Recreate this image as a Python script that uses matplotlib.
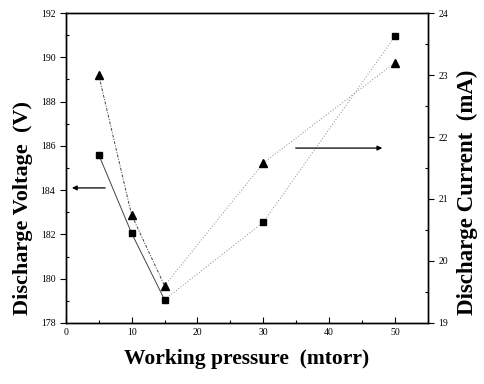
import matplotlib
matplotlib.use("Agg")
import matplotlib.pyplot as plt
from matplotlib.ticker import MultipleLocator

pressure = [5, 10, 15, 30, 50]
voltage = [185.6, 182.05, 179.05, 182.55, 190.95]
current = [23.0, 20.74, 19.6, 21.58, 23.2]

plt.rcParams['font.family'] = ['Liberation Serif', 'DejaVu Serif']

fig = plt.figure(figsize=(4.84, 3.84), dpi=100)
ax1 = fig.add_axes([0.136, 0.159, 0.748, 0.807])
ax2 = ax1.twinx()

# voltage (squares)
ax1.plot(pressure[:3], voltage[:3], color='#444444', lw=0.7, ls='-')
ax1.plot(pressure[2:], voltage[2:], color='#888888', lw=0.7, ls=(0, (1, 2)))
ax1.plot(pressure, voltage, ls='none', marker='s', ms=4.5, color='black')

# current (triangles)
ax2.plot(pressure[:3], current[:3], color='#444444', lw=0.7, ls=(0, (3, 1.5, 1, 1.5)))
ax2.plot(pressure[2:], current[2:], color='#888888', lw=0.7, ls=(0, (1, 2)))
ax2.plot(pressure, current, ls='none', marker='^', ms=6, color='black')

ax1.set_xlim(0, 55)
ax1.set_ylim(178, 192)
ax2.set_ylim(19, 24)

ax1.xaxis.set_major_locator(MultipleLocator(10))
ax1.xaxis.set_minor_locator(MultipleLocator(5))
ax1.yaxis.set_major_locator(MultipleLocator(2))
ax1.yaxis.set_minor_locator(MultipleLocator(1))
ax2.yaxis.set_major_locator(MultipleLocator(1))
ax2.yaxis.set_minor_locator(MultipleLocator(0.5))

for ax in (ax1, ax2):
    for s in ax.spines.values():
        s.set_linewidth(1.0)
    ax.tick_params(which='both', labelsize=7, width=0.8)
    ax.tick_params(which='major', length=4)
    ax.tick_params(which='minor', length=2)
ax1.tick_params(axis='x', which='both', direction='in')
ax1.tick_params(axis='y', which='major', direction='out')
ax1.tick_params(axis='y', which='minor', direction='in')
ax2.tick_params(axis='y', which='major', direction='out')
ax2.tick_params(axis='y', which='minor', direction='in')

ax1.set_xlabel('Working pressure  (mtorr)', fontsize=15.5, fontweight='bold')
ax1.set_ylabel('Discharge Voltage  (V)', fontsize=16, fontweight='bold')
ax2.set_ylabel('Discharge Current  (mA)', fontsize=16.5, fontweight='bold')
ax1.xaxis.set_label_coords(0.5, -0.085)
ax1.yaxis.set_label_coords(-0.09, 0.37)
ax2.yaxis.set_label_coords(1.08, 0.42)

ax1.annotate('', xy=(0.5, 184.1), xytext=(6.4, 184.1),
             arrowprops=dict(arrowstyle='-|>', color='black', lw=0.9, mutation_scale=7))
ax1.annotate('', xy=(48.5, 185.9), xytext=(34.5, 185.9),
             arrowprops=dict(arrowstyle='-|>', color='black', lw=0.9, mutation_scale=7))

fig.savefig('out.png', dpi=100)
